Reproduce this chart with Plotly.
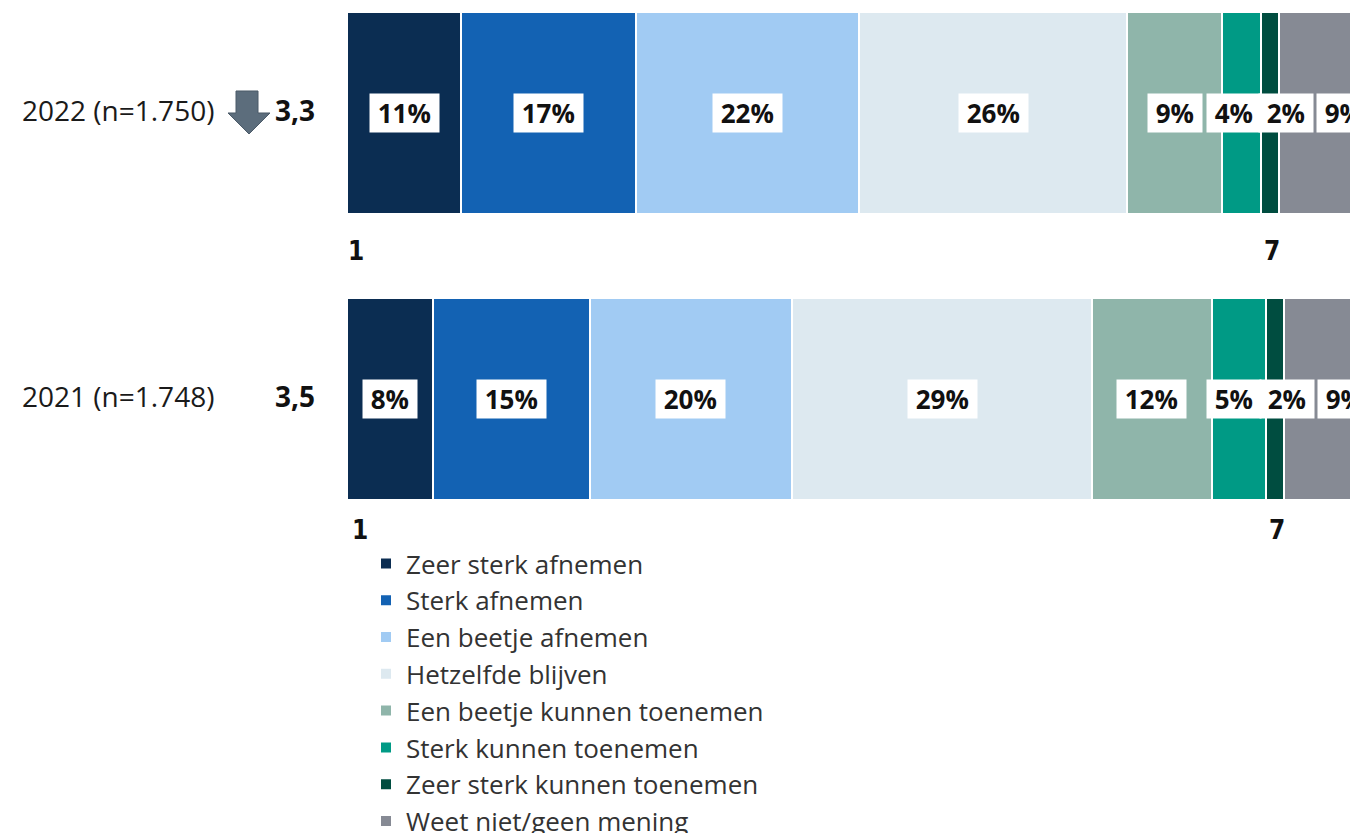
import plotly.graph_objects as go

# the page body adds an 8px margin; figure pixels = window pixels - 8
W, H = 1358, 825

years = ["2022 (n=1.750)", "2021 (n=1.748)"]
means = ["3,3", "3,5"]
categories = [
    "Zeer sterk afnemen",
    "Sterk afnemen",
    "Een beetje afnemen",
    "Hetzelfde blijven",
    "Een beetje kunnen toenemen",
    "Sterk kunnen toenemen",
    "Zeer sterk kunnen toenemen",
    "Weet niet/geen mening",
]
colors = ["#0b2d52", "#1362b3", "#a1cbf3", "#dde9f0",
          "#8fb5aa", "#009a85", "#004d40", "#868a94"]

pct_2022 = [11.1, 17.0, 21.7, 26.1, 9.2, 3.8, 1.8, 9.3]
pct_2021 = [8.4, 15.2, 19.7, 29.2, 11.6, 5.3, 1.75, 8.85]
labels_2022 = ["11%", "17%", "22%", "26%", "9%", "4%", "2%", "9%"]
labels_2021 = ["8%", "15%", "20%", "29%", "12%", "5%", "2%", "9%"]

values = {years[0]: pct_2022, years[1]: pct_2021}
labels = {years[0]: labels_2022, years[1]: labels_2021}
# small nudges so the labels of the narrow segments do not collide
label_shift = {years[0]: [0, 0, 0, 0, 0, -7, 16, 17],
               years[1]: [0, 0, 0, 0, 0, -5, 12, 15]}
scale_shift = {years[0]: (-1, -138), years[1]: (3, -131)}

# plot area in figure pixels
L, PW, PH = 339, W - 339, 540
ROW0, ROWGAP = 104.5, 286


def px(x):
    return (x - L) / PW


def py(y):
    return (PH - y) / PH


FONT = "Open Sans"
NARROW = "Liberation Sans Narrow, DejaVu Sans Condensed, Liberation Sans, sans-serif"

fig = go.Figure()
for i, cat in enumerate(categories):
    fig.add_bar(
        y=years,
        x=[values[yr][i] for yr in years],
        orientation="h",
        name=cat,
        marker=dict(color=colors[i], line=dict(color="white", width=2)),
        width=202 / ROWGAP,
        hoverinfo="skip",
    )

annotations = []
for r, yr in enumerate(years):
    start = 0
    for v, lab, sh in zip(values[yr], labels[yr], label_shift[yr]):
        annotations.append(dict(
            x=start + v / 2, y=yr, xref="x", yref="y", xshift=sh,
            text="\u00a0" + lab + "\u00a0", showarrow=False,
            bgcolor="white", borderpad=1,
            font=dict(family=FONT, size=26, color="#111111", weight="bold"),
        ))
        start += v
    # scale ends under each bar
    xs, ys = scale_shift[yr]
    seven_center = sum(values[yr][:6]) + values[yr][6] / 2
    annotations.append(dict(
        x=0, y=yr, xref="x", yref="y", xanchor="left", yanchor="middle",
        xshift=xs, yshift=ys, text="1", showarrow=False,
        font=dict(family=NARROW, size=26, color="#111111", weight="bold"),
    ))
    annotations.append(dict(
        x=seven_center, y=yr, xref="x", yref="y", xanchor="center", yanchor="middle",
        xshift=2, yshift=ys, text="7", showarrow=False,
        font=dict(family=NARROW, size=26, color="#111111", weight="bold"),
    ))
    # row label and mean score
    annotations.append(dict(
        x=px(12), y=yr, xref="paper", yref="y", xanchor="left", yshift=3,
        text=yr, showarrow=False,
        font=dict(family=FONT, size=28, color="#1a1a1a"),
    ))
    annotations.append(dict(
        x=px(309), y=yr, xref="paper", yref="y", xanchor="right", yshift=3,
        text=means[r], showarrow=False,
        font=dict(family=FONT, size=28, color="#111111", weight="bold"),
    ))

# down arrow next to 2022
arrow_pts = [(228, 83), (250, 83), (250, 105), (262, 105), (241, 126), (220, 105), (228, 105)]
path = "M " + " L ".join(f"{px(x):.5f},{py(y):.5f}" for x, y in arrow_pts) + " Z"
shapes = [dict(type="path", xref="paper", yref="paper", path=path,
               fillcolor="#5c6d7c", line=dict(color="#4b5a68", width=1))]

fig.update_layout(
    width=W, height=H,
    barmode="stack",
    bargap=0,
    plot_bgcolor="white", paper_bgcolor="white",
    margin=dict(l=L, r=0, t=0, b=H - PH, pad=0, autoexpand=False),
    xaxis=dict(range=[0, PW / 10.28], visible=False, fixedrange=True),
    yaxis=dict(type="category", categoryarray=years,
               range=[(PH - ROW0) / ROWGAP, -ROW0 / ROWGAP],
               visible=False, fixedrange=True),
    annotations=annotations,
    shapes=shapes,
    showlegend=True,
    legend=dict(
        x=px(358), xanchor="left",
        y=1 - 532 / H, yref="container", yanchor="top",
        traceorder="normal",
        font=dict(family=FONT, size=26, color="#333333"),
        bgcolor="rgba(0,0,0,0)",
        itemclick=False, itemdoubleclick=False,
    ),
    font=dict(family=FONT),
)

fig.write_html("out.html")
